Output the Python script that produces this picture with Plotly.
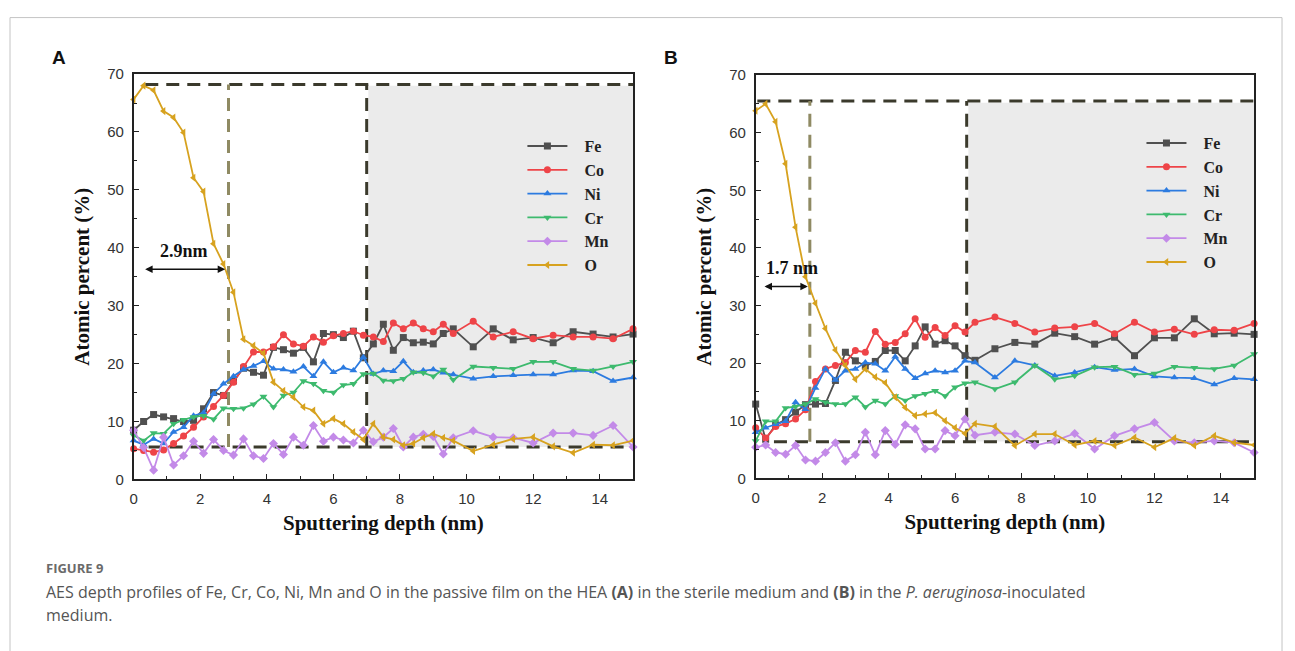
import plotly.graph_objects as go

# ---------------- data ----------------
depth_a = [0, 0.3, 0.6, 0.9, 1.2, 1.5, 1.8, 2.1, 2.4, 2.7, 3.0, 3.3, 3.6, 3.9, 4.2, 4.5, 4.8, 5.1, 5.4, 5.7,
           6.0, 6.3, 6.6, 6.9, 7.2, 7.5, 7.8, 8.1, 8.4, 8.7, 9.0, 9.3, 9.6,
           10.2, 10.8, 11.4, 12.0, 12.6, 13.2, 13.8, 14.4, 15.0]
fe_a = [8.5, 10.0, 11.2, 10.8, 10.5, 10.0, 10.2, 12.2, 15.0, 14.5, 17.0, 19.2, 18.5, 18.0, 22.8, 22.4, 21.8, 22.8, 20.3, 25.2,
        25.0, 24.5, 25.6, 21.0, 23.4, 26.8, 22.3, 24.5, 23.6, 23.7, 23.4, 25.2, 26.0,
        22.9, 26.0, 24.1, 24.5, 23.6, 25.5, 25.1, 24.6, 25.1]
co_a = [5.3, 5.0, 4.7, 5.1, 6.2, 7.5, 9.0, 10.8, 12.6, 14.5, 16.8, 19.5, 22.0, 22.0, 22.9, 25.0, 23.4, 23.0, 24.6, 23.7,
        24.8, 25.2, 25.6, 24.9, 24.6, 23.8, 27.0, 26.0, 27.0, 26.0, 25.5, 26.8, 25.2,
        27.3, 24.6, 25.5, 24.3, 24.9, 24.6, 24.6, 24.3, 26.0]
ni_a = [6.7, 6.0, 7.0, 6.2, 8.2, 9.0, 11.0, 11.5, 14.8, 16.5, 17.8, 19.0, 19.6, 20.4, 19.1, 19.0, 18.6, 19.5, 17.8, 20.3,
        18.5, 19.3, 18.8, 21.1, 18.2, 18.8, 18.7, 20.4, 18.5, 18.8, 19.0, 18.4, 18.1,
        17.4, 17.8, 18.0, 18.1, 18.1, 18.8, 18.7, 17.0, 17.6]
cr_a = [7.6, 6.7, 8.0, 7.9, 9.6, 10.3, 10.8, 11.0, 10.4, 12.3, 12.2, 12.3, 13.0, 14.3, 12.5, 14.5, 15.0, 17.0, 16.5, 15.3,
        15.0, 16.3, 16.5, 18.2, 18.3, 17.1, 17.0, 17.4, 18.5, 18.4, 17.8, 19.0, 17.2,
        19.5, 19.3, 19.1, 20.3, 20.3, 19.1, 18.8, 19.5, 20.3]
mn_a = [8.5, 5.5, 1.6, 7.3, 2.5, 4.1, 6.6, 4.5, 6.9, 5.0, 4.2, 7.0, 4.1, 3.6, 6.2, 4.3, 7.3, 5.9, 9.3, 6.6,
        7.3, 6.8, 6.3, 8.5, 6.5, 7.3, 8.8, 5.6, 7.3, 7.8, 7.4, 4.4, 7.2,
        8.4, 7.3, 7.2, 6.3, 8.0, 8.0, 7.6, 9.3, 5.6]
o_a = [65.6, 68.0, 67.2, 63.6, 62.5, 59.9, 52.1, 49.7, 40.7, 37.2, 32.3, 24.2, 23.1, 21.8, 16.8, 15.3, 14.2, 12.5, 11.9, 9.6,
       10.5, 9.6, 8.2, 6.9, 9.6, 7.3, 6.9, 5.9, 6.2, 7.2, 7.9, 7.2, 6.7,
       4.9, 6.0, 7.0, 7.3, 5.7, 4.6, 6.0, 5.9, 6.7]

depth_b = [0, 0.3, 0.6, 0.9, 1.2, 1.5, 1.8, 2.1, 2.4, 2.7, 3.0, 3.3, 3.6, 3.9, 4.2, 4.5, 4.8, 5.1, 5.4, 5.7,
           6.0, 6.3, 6.6, 7.2, 7.8, 8.4, 9.0, 9.6, 10.2, 10.8, 11.4, 12.0, 12.6, 13.2, 13.8, 14.4, 15.0]
fe_b = [12.9, 6.8, 9.3, 10.2, 11.5, 12.8, 12.9, 13.0, 17.0, 21.9, 20.4, 19.5, 20.3, 22.2, 22.2, 20.4, 23.0, 26.3, 23.3, 23.9,
        23.0, 21.3, 20.5, 22.5, 23.6, 23.3, 25.2, 24.6, 23.3, 24.5, 21.3, 24.4, 24.4, 27.7, 25.1, 25.2, 25.0]
co_b = [8.8, 7.0, 9.0, 9.5, 10.3, 11.9, 16.8, 19.0, 19.6, 20.1, 22.2, 21.9, 25.5, 23.3, 23.6, 25.1, 27.7, 24.5, 26.2, 24.8,
        26.5, 25.4, 27.1, 28.0, 26.9, 25.4, 26.1, 26.3, 26.9, 25.1, 27.1, 25.4, 25.9, 25.0, 25.8, 25.7, 26.9]
ni_b = [8.0, 8.8, 9.4, 9.9, 13.2, 12.0, 15.7, 19.0, 17.1, 18.7, 19.0, 20.1, 19.9, 18.7, 21.1, 19.0, 17.4, 18.2, 18.7, 18.4,
        18.7, 20.4, 20.1, 17.5, 20.4, 19.6, 17.8, 18.4, 19.3, 18.8, 19.0, 17.7, 17.5, 17.4, 16.3, 17.4, 17.2]
cr_b = [6.5, 9.9, 9.9, 12.2, 12.5, 12.9, 13.8, 13.2, 12.9, 12.9, 14.1, 12.4, 13.5, 12.9, 14.3, 13.5, 14.3, 14.7, 15.2, 14.3,
        15.8, 16.5, 16.7, 15.5, 16.7, 19.6, 17.2, 17.8, 19.3, 19.4, 18.0, 18.2, 19.4, 19.2, 19.0, 19.6, 21.6]
mn_b = [5.4, 5.8, 4.5, 4.2, 5.7, 3.2, 3.0, 4.5, 6.2, 3.0, 4.1, 8.0, 4.1, 8.3, 5.9, 9.3, 8.6, 5.1, 5.1, 8.3,
        7.4, 10.3, 7.5, 8.0, 7.7, 5.7, 6.5, 7.8, 5.1, 7.4, 8.6, 9.7, 6.5, 6.2, 6.5, 6.2, 4.5]
o_b = [63.8, 65.0, 61.9, 54.6, 43.6, 35.0, 30.4, 26.0, 22.3, 19.6, 17.2, 19.0, 17.6, 16.6, 14.1, 12.3, 10.9, 11.2, 11.4, 10.0,
       8.8, 7.8, 9.5, 9.0, 5.7, 7.7, 7.7, 5.8, 6.5, 5.7, 7.1, 5.4, 7.0, 5.7, 7.4, 6.2, 5.8]

elements = ["Fe", "Co", "Ni", "Cr", "Mn", "O"]
colors = ["#505050", "#ee4448", "#2c7be0", "#3dba6e", "#c38ae8", "#d7a21f"]
symbols = ["square", "circle", "triangle-up", "triangle-down", "diamond", "triangle-left"]
series_a = [fe_a, co_a, ni_a, cr_a, mn_a, o_a]
series_b = [fe_b, co_b, ni_b, cr_b, mn_b, o_b]

x_ticks = [0, 2, 4, 6, 8, 10, 12, 14]
y_ticks = [0, 10, 20, 30, 40, 50, 60, 70]

# figure size and mapping from target picture pixels to paper coordinates
W, H = 1283, 651
XO, YO, YS = 11, 17, 0.973


def PX(px):
    return (px - XO) / W


def PY(py):
    return 1 - ((py - YO) / YS) / H


PAD = "\u00a0\u00a0\u00a0"

# ---------------- figure ----------------
fig = go.Figure()
for name, col, sym, ya in zip(elements, colors, symbols, series_a):
    fig.add_trace(go.Scatter(x=depth_a, y=ya, name=PAD + name, mode="lines+markers",
                             line=dict(color=col, width=1.8),
                             marker=dict(symbol=sym, size=7, color=col),
                             xaxis="x", yaxis="y", legend="legend", cliponaxis=False))
for name, col, sym, yb in zip(elements, colors, symbols, series_b):
    fig.add_trace(go.Scatter(x=depth_b, y=yb, name=PAD + name, mode="lines+markers",
                             line=dict(color=col, width=1.8),
                             marker=dict(symbol=sym, size=7, color=col),
                             xaxis="x2", yaxis="y2", legend="legend2", cliponaxis=False))

serif = "Liberation Serif"
sans = "Liberation Sans"
axis_common = dict(showline=True, linecolor="#222", linewidth=1.5, mirror=True,
                   ticks="inside", ticklen=6, tickwidth=1.3, tickcolor="#222",
                   showgrid=False, zeroline=False,
                   tickfont=dict(family=sans, size=15, color="#333"))
xcommon = dict(axis_common, range=[0, 15], tickvals=x_ticks,
               minor=dict(dtick=1, ticks="inside", ticklen=4, tickcolor="#222", tickwidth=1.2),
               title=dict(text="Sputtering depth (nm)", standoff=9,
                          font=dict(family=serif, size=21, color="#111", weight="bold")),
               ticklabelstandoff=5)
ycommon = dict(axis_common, range=[0, 70], tickvals=y_ticks,
               minor=dict(dtick=5, ticks="inside", ticklen=4, tickcolor="#222", tickwidth=1.2),
               title=dict(text="Atomic percent (%)", standoff=12,
                          font=dict(family=serif, size=21, color="#111", weight="bold")),
               ticklabelstandoff=5)

legend_common = dict(bgcolor="rgba(0,0,0,0)", borderwidth=0, xanchor="left", yanchor="top",
                     font=dict(family=serif, size=16, color="#222", weight="bold"),
                     itemwidth=40, tracegroupgap=0)

fig.update_layout(
    width=W, height=H, autosize=False,
    margin=dict(l=0, r=0, t=0, b=0),
    paper_bgcolor="white", plot_bgcolor="white",
    xaxis=dict(xcommon, domain=[PX(133), PX(634)], anchor="y"),
    yaxis=dict(ycommon, domain=[PY(479), PY(74)], anchor="x"),
    xaxis2=dict(xcommon, domain=[PX(757), PX(1257)], anchor="y2"),
    yaxis2=dict(ycommon, domain=[PY(478), PY(75)], anchor="x2"),
    legend=dict(legend_common, x=PX(523), y=PY(129)),
    legend2=dict(legend_common, x=PX(1144), y=PY(126)),
    showlegend=True,
)

dark = "#3b3a2c"
khaki = "#8f8a63"
dash = "13px,8px"
shapes = [
    # outer frame
    dict(type="rect", xref="paper", yref="paper", x0=PX(9), x1=PX(1285), y0=-0.05, y1=1 - 0.6 / H,
         line=dict(color="#c4c4c4", width=1), layer="below"),
    # panel A
    dict(type="rect", xref="x", yref="y", x0=7.05, x1=15, y0=5.6, y1=68.0,
         fillcolor="#ebebeb", line=dict(width=0), layer="below"),
    dict(type="line", xref="x", yref="y", x0=0.35, x1=15, y0=68.2, y1=68.2, line=dict(color=dark, width=3, dash=dash), layer="below"),
    dict(type="line", xref="x", yref="y", x0=0.45, x1=15, y0=5.6, y1=5.6, line=dict(color=dark, width=3, dash=dash), layer="below"),
    dict(type="line", xref="x", yref="y", x0=2.85, x1=2.85, y0=5.6, y1=68.2, line=dict(color=khaki, width=3, dash=dash), layer="below"),
    dict(type="line", xref="x", yref="y", x0=7.0, x1=7.0, y0=5.6, y1=68.2, line=dict(color=dark, width=3, dash=dash), layer="below"),
    # panel B
    dict(type="rect", xref="x2", yref="y2", x0=6.4, x1=15, y0=6.4, y1=65.2,
         fillcolor="#ebebeb", line=dict(width=0), layer="below"),
    dict(type="line", xref="x2", yref="y2", x0=0.05, x1=15, y0=65.5, y1=65.5, line=dict(color=dark, width=3, dash=dash), layer="below"),
    dict(type="line", xref="x2", yref="y2", x0=0.55, x1=15, y0=6.35, y1=6.35, line=dict(color=dark, width=3, dash=dash), layer="below"),
    dict(type="line", xref="x2", yref="y2", x0=1.63, x1=1.63, y0=6.35, y1=65.5, line=dict(color=khaki, width=3, dash=dash), layer="below"),
    dict(type="line", xref="x2", yref="y2", x0=6.35, x1=6.35, y0=6.35, y1=65.5, line=dict(color=dark, width=3, dash=dash), layer="below"),
]
fig.update_layout(shapes=shapes)

annotations = [
    dict(xref="paper", yref="paper", x=PX(58), y=PY(57), text="<b>A</b>", showarrow=False,
         font=dict(family=sans, size=19, color="#111"), xanchor="center", yanchor="middle"),
    dict(xref="paper", yref="paper", x=PX(672), y=PY(57), text="<b>B</b>", showarrow=False,
         font=dict(family=sans, size=19, color="#111"), xanchor="center", yanchor="middle"),
    # thickness arrows
    dict(xref="x", yref="y", axref="x", ayref="y", x=2.75, y=36.3, ax=0.3, ay=36.3, text="",
         showarrow=True, arrowhead=2, arrowside="end+start", arrowwidth=1.5, arrowsize=1, arrowcolor="#111"),
    dict(xref="x", yref="y", x=1.5, y=39.4, text="<b>2.9nm</b>", showarrow=False,
         font=dict(family=serif, size=18, color="#111")),
    dict(xref="x2", yref="y2", axref="x2", ayref="y2", x=1.57, y=33.3, ax=0.22, ay=33.3, text="",
         showarrow=True, arrowhead=2, arrowside="end+start", arrowwidth=1.5, arrowsize=1, arrowcolor="#111"),
    dict(xref="x2", yref="y2", x=1.1, y=36.6, text="<b>1.7 nm</b>", showarrow=False,
         font=dict(family=serif, size=18, color="#111")),
    # caption
    dict(xref="paper", yref="paper", x=PX(43), y=PY(567), xanchor="left", yanchor="middle",
         text="<b>FIGURE 9</b>", showarrow=False, font=dict(family="Open Sans", size=13, color="#6a6a6a")),
    dict(xref="paper", yref="paper", x=PX(43), y=PY(591), xanchor="left", yanchor="middle",
         text="AES depth profiles of Fe, Cr, Co, Ni, Mn and O in the passive film on the HEA <b>(A)</b> in the sterile medium and <b>(B)</b> in the <i>P. aeruginosa</i>-inoculated",
         showarrow=False, font=dict(family="Open Sans", size=16, color="#555")),
    dict(xref="paper", yref="paper", x=PX(43), y=PY(614), xanchor="left", yanchor="middle",
         text="medium.", showarrow=False, font=dict(family="Open Sans", size=16, color="#555")),
]
fig.update_layout(annotations=annotations)

fig.write_html("out.html")
